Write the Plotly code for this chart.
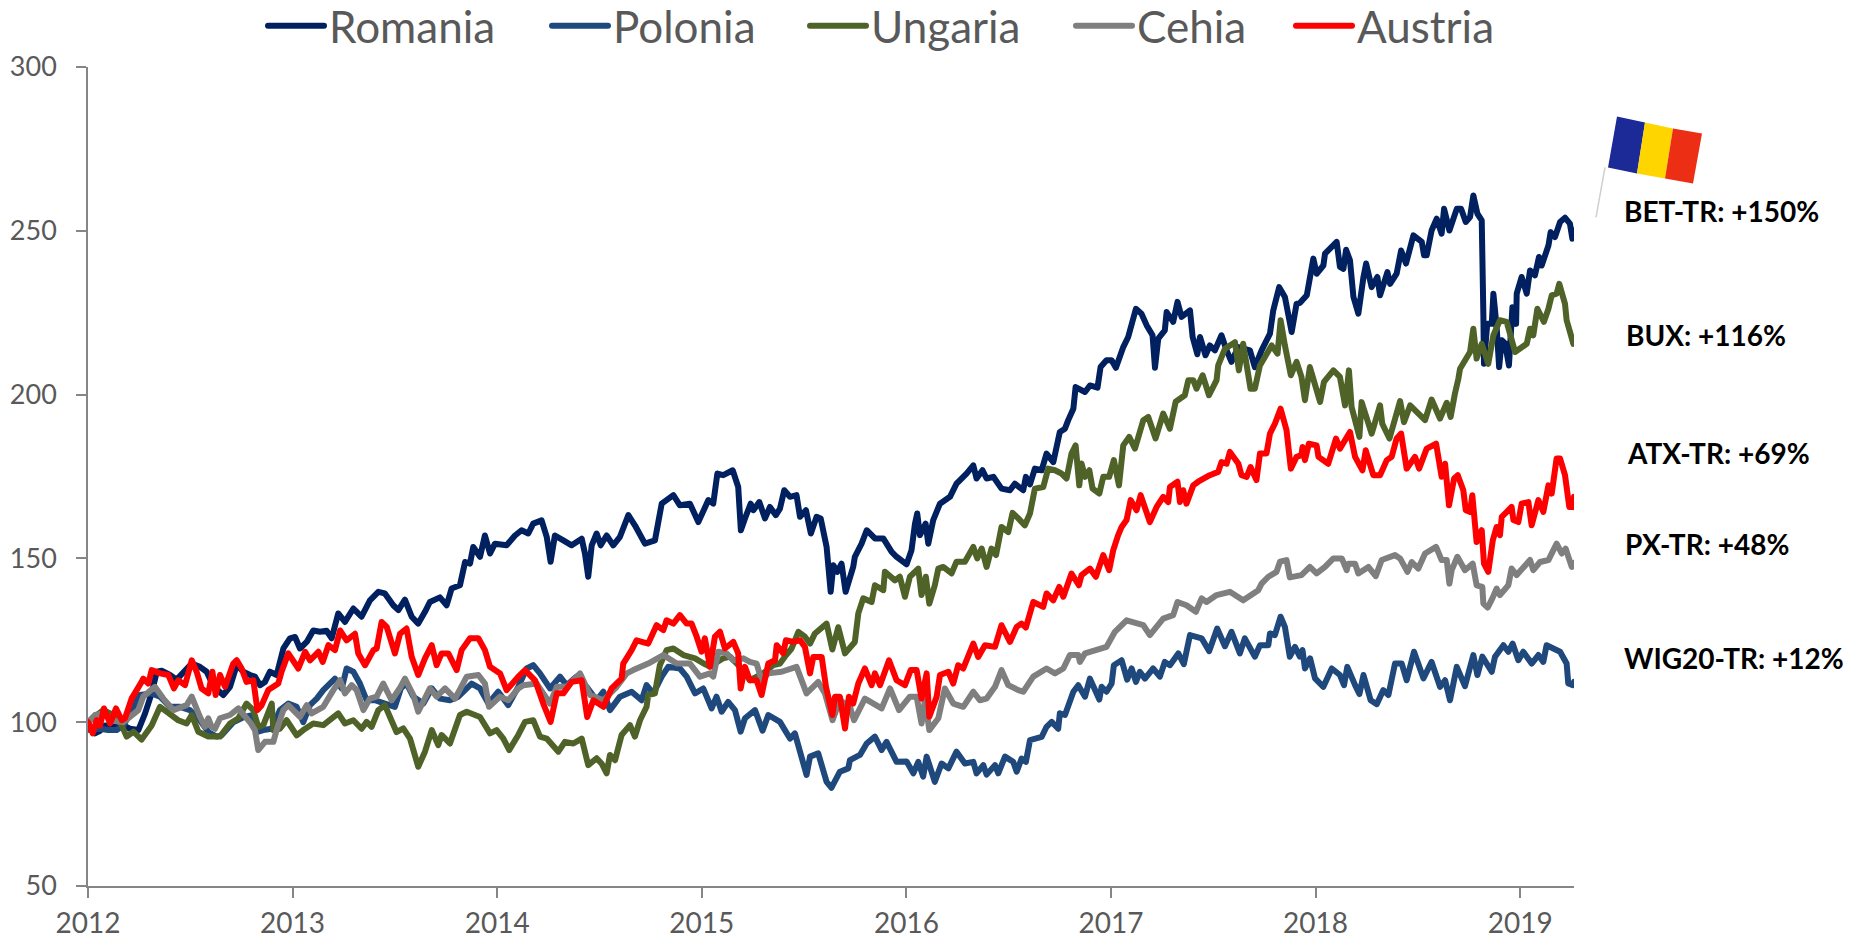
import plotly.graph_objects as go

# Years since the start of 2012, index value
ROMANIA = [(0,100),(.01,98.6),(.034,96.6),(.059,97.4),(.083,99),(.108,98.5),(.173,99),(.205,98),(.246,97.6),(.279,102.7),(.311,108.8),(.336,115.4),(.36,115.7),(.401,114.4),(.433,113),(.507,117.9),(.547,116.9),(.58,115.4),(.613,111),(.661,108.3),(.694,110.8),(.727,117.4),(.759,115.4),(.792,114.4),(.816,113.9),(.841,111.3),(.865,112.3),(.889,115.4),(.922,114.4),(.955,122.5),(.987,125.6),(1.012,126),(1.036,122.5),(1.069,124.5),(1.101,128),(1.134,127.6),(1.166,127.9),(1.191,125.6),(1.223,133.2),(1.256,130.6),(1.297,134.7),(1.337,132.2),(1.378,137.2),(1.419,139.8),(1.451,139.3),(1.492,135.7),(1.517,134.2),(1.549,137.4),(1.582,132.2),(1.614,130.1),(1.647,133.7),(1.671,136.7),(1.72,138.1),(1.753,135.7),(1.777,140.8),(1.818,141.8),(1.843,148.9),(1.867,148.4),(1.883,153.5),(1.916,150.5),(1.94,157),(1.965,151.5),(1.989,154.5),(2.046,154),(2.087,157),(2.119,158.6),(2.152,157.6),(2.176,160.6),(2.217,161.6),(2.242,156.6),(2.261,149),(2.282,157),(2.323,155.5),(2.364,154),(2.413,156),(2.429,151.5),(2.445,144.4),(2.462,154),(2.486,157.6),(2.506,154),(2.535,157),(2.567,154),(2.6,156.6),(2.641,163.2),(2.673,160.1),(2.722,154.5),(2.771,155.5),(2.804,166.7),(2.861,169.3),(2.893,166.2),(2.942,166.7),(2.983,161.1),(3.032,167.8),(3.056,166.7),(3.076,175.9),(3.105,175.4),(3.151,176.9),(3.178,171.8),(3.191,158.6),(3.211,162.2),(3.239,166.7),(3.252,164.7),(3.281,167.2),(3.309,162.2),(3.333,165.7),(3.362,163.2),(3.382,165.2),(3.403,170.8),(3.431,168.8),(3.463,169.3),(3.48,162.7),(3.509,164.7),(3.533,157.6),(3.561,162.7),(3.581,162.2),(3.61,153.5),(3.63,139.8),(3.643,147.9),(3.662,145.9),(3.683,148.4),(3.703,139.8),(3.74,147.4),(3.748,150.5),(3.781,154.5),(3.806,158.6),(3.846,156.1),(3.887,156.1),(3.928,152),(3.952,150.5),(4.001,148.2),(4.025,152.5),(4.042,160.6),(4.053,163.7),(4.066,157.1),(4.094,160.6),(4.107,154.5),(4.131,161.7),(4.164,166.7),(4.213,168.8),(4.245,172.8),(4.294,175.9),(4.327,178.4),(4.343,174.4),(4.372,176.9),(4.392,174.4),(4.425,174.9),(4.465,171.3),(4.506,170.8),(4.53,172.8),(4.571,170.8),(4.584,174.9),(4.604,172.6),(4.628,177.4),(4.661,176.9),(4.685,182),(4.718,179.4),(4.75,188.6),(4.775,189.6),(4.791,192.2),(4.816,195.7),(4.827,202.3),(4.873,200.8),(4.897,202.8),(4.934,202.1),(4.949,208.4),(4.978,210.5),(5.003,210.5),(5.024,208.2),(5.06,214.5),(5.084,217.6),(5.122,226.2),(5.149,224.7),(5.174,221.2),(5.203,218.1),(5.215,208.2),(5.231,217.1),(5.263,219.6),(5.272,225.2),(5.304,222.2),(5.325,228.3),(5.345,223.7),(5.386,225.7),(5.399,217.6),(5.422,212.3),(5.435,217.6),(5.462,212),(5.483,215),(5.508,213.5),(5.54,218.1),(5.565,213.5),(5.589,210),(5.622,214.5),(5.679,213.5),(5.703,208.4),(5.736,213.5),(5.777,218.6),(5.793,225.7),(5.822,232.8),(5.85,229.8),(5.883,219.1),(5.907,227.7),(5.924,228),(5.957,230.3),(5.989,241.5),(6.005,236.9),(6.038,239.4),(6.046,243),(6.103,246.6),(6.119,239),(6.136,238.4),(6.149,244.2),(6.168,241),(6.185,229.8),(6.209,224.7),(6.234,235.9),(6.247,240),(6.274,232.8),(6.302,235.9),(6.315,230.3),(6.351,237.4),(6.364,233.8),(6.396,236.9),(6.418,244),(6.442,240),(6.478,248.6),(6.519,246.6),(6.53,242.5),(6.543,242.5),(6.567,250.1),(6.592,253.7),(6.616,249.1),(6.628,256.7),(6.654,250.1),(6.69,256.7),(6.711,256.7),(6.734,252.7),(6.755,254.2),(6.771,260.8),(6.791,255.2),(6.812,253.2),(6.82,224.7),(6.823,209.4),(6.839,221.6),(6.861,221.6),(6.869,230.8),(6.885,220.6),(6.897,208.4),(6.91,216.6),(6.926,215.6),(6.945,208.9),(6.962,226.7),(6.98,221.6),(6.983,230.8),(7.007,235.9),(7.032,230.8),(7.048,237.9),(7.072,236.4),(7.092,242),(7.105,239.4),(7.138,245.5),(7.149,249.6),(7.17,248.1),(7.195,252.7),(7.219,254),(7.243,252.2),(7.255,247.6),(7.263,250.1)]

POLONIA = [(0,100),(.01,97.6),(.059,98),(.099,97.6),(.14,97.6),(.173,99),(.205,102.7),(.254,108.3),(.311,108.8),(.352,107.8),(.401,104.7),(.45,104.7),(.498,103.7),(.547,100.6),(.588,97),(.629,95.6),(.653,96),(.71,100),(.759,101.5),(.792,102),(.824,97),(.857,97.6),(.898,98),(.938,103.7),(.979,105.7),(1.02,104.7),(1.052,100),(1.085,105.2),(1.118,107.2),(1.15,109.8),(1.207,113.3),(1.24,110.3),(1.264,116.4),(1.297,115.4),(1.329,111.8),(1.362,106.7),(1.403,106.7),(1.451,105.7),(1.5,104.7),(1.53,110.5),(1.557,111.8),(1.59,107.8),(1.639,105.7),(1.68,110.3),(1.72,107.2),(1.769,106.7),(1.81,107.8),(1.875,111.8),(1.916,110.3),(1.957,105.7),(2.005,109.3),(2.054,105.2),(2.103,110.8),(2.144,116.4),(2.176,117.4),(2.209,114.9),(2.258,110.3),(2.307,113.9),(2.339,111.3),(2.388,113.9),(2.437,110.8),(2.486,106.7),(2.519,109.3),(2.551,103.7),(2.6,107.8),(2.657,109.3),(2.706,106.7),(2.73,111.3),(2.763,108.8),(2.804,113.9),(2.836,116.9),(2.893,116.4),(2.926,113.9),(2.967,108.8),(3.007,110.3),(3.048,104.2),(3.072,107.8),(3.097,103.2),(3.129,106.2),(3.162,103.7),(3.19,97.1),(3.211,101.2),(3.26,103.7),(3.297,97.4),(3.325,102.2),(3.382,100.1),(3.431,95),(3.455,96.6),(3.512,83.9),(3.529,89.5),(3.569,90.5),(3.61,81.8),(3.634,80),(3.675,84.9),(3.716,85.9),(3.724,88.4),(3.773,90),(3.806,93.5),(3.846,95.6),(3.879,91.5),(3.903,94),(3.952,87.9),(4.001,88),(4.034,84.4),(4.058,87.9),(4.082,83.4),(4.099,89.5),(4.139,81.8),(4.172,87.4),(4.205,85.9),(4.245,91),(4.286,87.4),(4.327,87.9),(4.343,84.4),(4.376,86.9),(4.392,84),(4.433,86.9),(4.449,84.4),(4.482,89.5),(4.522,87.9),(4.539,84.9),(4.563,88.9),(4.584,87.9),(4.604,94.5),(4.661,95.5),(4.685,98.6),(4.71,100.1),(4.742,98),(4.75,102.7),(4.775,102.2),(4.816,109.3),(4.84,111.3),(4.873,107.8),(4.897,113.3),(4.943,106.9),(4.954,110.8),(4.978,109.3),(5.003,111.8),(5.014,117.4),(5.052,118.9),(5.079,113),(5.101,116.4),(5.122,112.3),(5.141,115.4),(5.166,113.3),(5.206,116.4),(5.239,113.9),(5.263,118.4),(5.288,117.4),(5.329,121),(5.356,117.7),(5.386,126.6),(5.443,125.6),(5.48,121.7),(5.519,128.6),(5.557,123.2),(5.589,127.6),(5.63,121),(5.654,125.6),(5.703,120),(5.728,123.5),(5.769,123.5),(5.777,127.1),(5.801,126.6),(5.829,132.2),(5.85,129.1),(5.874,120),(5.899,123),(5.923,120),(5.936,122),(5.948,116.4),(5.973,119.5),(5.997,113.4),(6.038,110.8),(6.079,116.4),(6.119,114.4),(6.139,111.3),(6.155,116.9),(6.193,111.3),(6.214,108.6),(6.234,114.4),(6.269,106.7),(6.299,105.5),(6.331,109.8),(6.356,108.3),(6.388,117.9),(6.421,117.9),(6.445,112.8),(6.481,121.5),(6.527,113.4),(6.567,118.4),(6.608,110.8),(6.633,112.8),(6.657,106.7),(6.69,116.9),(6.73,111),(6.771,120.5),(6.791,114.4),(6.815,120),(6.861,115.4),(6.877,120),(6.918,123.5),(6.942,121.5),(6.963,124),(6.991,118.9),(7.015,121.5),(7.056,117.9),(7.089,120.5),(7.113,118.4),(7.129,123.5),(7.195,121.5),(7.227,117.9),(7.235,111.8),(7.257,111.3),(7.263,112.3)]

UNGARIA = [(0,100),(.04,102),(.075,103.7),(.124,102.2),(.165,99),(.189,95.6),(.222,97.1),(.262,94.7),(.311,99),(.352,104.7),(.384,103.2),(.441,100.6),(.482,99.6),(.507,102.2),(.539,97.1),(.588,95.6),(.645,95.6),(.694,99.6),(.735,101.2),(.775,105.7),(.808,103.7),(.832,98.6),(.857,99.1),(.898,105.7),(.906,97.6),(.938,98),(.971,100.6),(1.02,96),(1.052,97.6),(1.101,99.6),(1.15,99.1),(1.223,102.7),(1.256,99.6),(1.297,100.6),(1.337,98),(1.362,100.1),(1.386,98.6),(1.419,103.7),(1.451,105.2),(1.476,101.6),(1.508,97),(1.541,98.1),(1.574,95),(1.614,86.4),(1.647,91),(1.68,97.6),(1.712,93),(1.728,96.1),(1.769,93.5),(1.818,102.2),(1.851,103.2),(1.916,101.6),(1.965,96.6),(1.997,97.6),(2.03,95),(2.059,91.5),(2.103,96.1),(2.136,100.1),(2.176,100.6),(2.209,95.6),(2.242,95),(2.299,91),(2.331,94),(2.372,93.5),(2.413,95),(2.445,86.9),(2.486,89),(2.51,87.4),(2.535,84.4),(2.551,90),(2.576,88.4),(2.608,96.1),(2.649,99.1),(2.673,95.6),(2.698,100.6),(2.73,104.7),(2.738,108.3),(2.771,108.8),(2.795,117.4),(2.828,122),(2.861,122.5),(2.91,120.5),(2.967,119.5),(3.007,118),(3.04,117),(3.105,119.5),(3.138,120),(3.2,116),(3.235,112.8),(3.3,114.9),(3.349,117.4),(3.382,117.9),(3.406,120),(3.439,122.5),(3.472,127.6),(3.504,126.1),(3.529,124),(3.553,127.1),(3.61,130.1),(3.638,122.2),(3.667,129),(3.7,121),(3.748,124.5),(3.765,133.2),(3.789,137.8),(3.83,136.7),(3.846,141.8),(3.887,140.3),(3.895,145.9),(3.944,143.3),(3.968,144.4),(3.993,138.3),(4.017,144.4),(4.058,146.9),(4.074,138.8),(4.095,144.4),(4.112,136.2),(4.139,141.8),(4.156,146.9),(4.18,147.4),(4.221,145.4),(4.245,149),(4.286,149),(4.327,153.5),(4.346,150),(4.368,153),(4.392,147.4),(4.416,153),(4.438,151),(4.465,159.6),(4.498,158),(4.519,163.9),(4.547,162.2),(4.579,160.1),(4.604,163.7),(4.628,171.3),(4.669,171.8),(4.693,177.4),(4.726,176.9),(4.758,175.9),(4.783,174.4),(4.807,182),(4.827,184.5),(4.845,172.3),(4.856,179),(4.873,174.9),(4.894,176.9),(4.91,171.3),(4.943,169.8),(4.962,174.9),(4.991,174.9),(5.014,180),(5.039,172.3),(5.06,184.5),(5.089,187.1),(5.117,183.5),(5.158,192.2),(5.182,193.2),(5.218,186.6),(5.255,194.2),(5.288,189.6),(5.316,197.8),(5.361,199.8),(5.378,204.4),(5.402,204.4),(5.418,201.8),(5.448,205.9),(5.479,199.8),(5.516,204.4),(5.524,208.9),(5.557,214),(5.606,216),(5.625,207.4),(5.646,215.5),(5.682,201.8),(5.703,201.8),(5.728,208.9),(5.785,215),(5.814,212.5),(5.829,222.7),(5.85,215),(5.879,205.9),(5.907,210),(5.931,205.4),(5.948,198.3),(5.972,208.4),(6.022,197.8),(6.041,203.9),(6.087,207.4),(6.119,205.4),(6.144,196.7),(6.163,207.4),(6.176,196.2),(6.214,187.1),(6.225,197.7),(6.274,188.1),(6.315,196.7),(6.326,191.1),(6.361,186.6),(6.413,198),(6.432,191.6),(6.462,196.7),(6.535,192.2),(6.567,198.5),(6.608,192.7),(6.641,197.5),(6.66,193.2),(6.681,200.3),(6.698,204.9),(6.706,207.9),(6.755,213),(6.771,220.1),(6.787,211),(6.812,215.5),(6.844,209.4),(6.869,218.1),(6.901,222.7),(6.934,222.2),(6.975,213),(7.032,215.5),(7.048,220.1),(7.064,218.1),(7.084,226.2),(7.116,222.2),(7.138,226.2),(7.154,230.3),(7.178,230.8),(7.191,233.8),(7.219,227.7),(7.227,222.7),(7.26,215.5)]

CEHIA = [(0,100),(.034,102.2),(.075,102.7),(.116,100.5),(.173,100),(.205,101.6),(.246,103.7),(.27,107.8),(.327,110.8),(.368,107.2),(.417,103.7),(.482,105.2),(.507,107.8),(.547,101.6),(.572,98.6),(.588,101.2),(.604,98.6),(.621,98),(.645,101.2),(.694,102.2),(.735,104.2),(.792,100),(.816,97.6),(.832,91.5),(.865,94),(.906,94),(.922,97.6),(.955,103.7),(.979,105.2),(1.036,101.6),(1.069,105.2),(1.093,102.7),(1.15,104.7),(1.199,109.8),(1.232,112.8),(1.256,108.8),(1.289,111.3),(1.313,109.8),(1.346,103.7),(1.378,107.2),(1.411,107.8),(1.443,111.8),(1.484,106.7),(1.525,110.5),(1.549,113.3),(1.59,108.3),(1.614,103.2),(1.671,110.3),(1.704,107.8),(1.745,110.3),(1.794,107.2),(1.851,113.9),(1.908,114.4),(1.94,111.8),(1.96,104.7),(2.014,107.8),(2.054,106.7),(2.103,110.3),(2.128,111.3),(2.193,111.8),(2.258,105.7),(2.291,110.8),(2.339,110.8),(2.405,114.9),(2.454,108.3),(2.519,106.7),(2.584,110.8),(2.633,114.9),(2.665,115.9),(2.738,117.9),(2.812,120.5),(2.877,117.9),(2.942,117.9),(2.991,113.9),(3.04,114.9),(3.056,113.9),(3.081,121.5),(3.121,121),(3.154,118.9),(3.203,119.5),(3.235,118.4),(3.268,117.9),(3.292,112.8),(3.325,114.9),(3.39,115.4),(3.463,116.9),(3.512,108.8),(3.569,112.3),(3.602,108.8),(3.639,100.6),(3.675,106.7),(3.724,104.7),(3.744,100.6),(3.797,107.2),(3.879,104.2),(3.92,110.3),(3.964,103.7),(4.017,107.8),(4.05,107.8),(4.074,99.6),(4.091,106.7),(4.112,97.6),(4.156,101.2),(4.188,110.3),(4.229,105.7),(4.278,104.7),(4.327,109.3),(4.359,106.7),(4.392,107.2),(4.433,110.8),(4.465,115.9),(4.498,111.3),(4.547,109.8),(4.571,109.3),(4.62,113.9),(4.685,116.4),(4.726,114.9),(4.767,116.4),(4.799,120.5),(4.84,120.5),(4.848,118.4),(4.873,121),(4.978,123),(5.019,127.6),(5.076,131.1),(5.158,129.6),(5.19,126.6),(5.255,131.6),(5.304,132.7),(5.325,136.7),(5.369,135.7),(5.415,133.7),(5.443,137.8),(5.467,136.7),(5.516,138.8),(5.581,139.8),(5.646,137.2),(5.72,140.3),(5.736,142.3),(5.769,144.4),(5.809,145.9),(5.826,149),(5.858,149.5),(5.874,144.2),(5.931,144.9),(5.972,147.4),(6.005,145.4),(6.046,147.4),(6.087,150),(6.128,150),(6.152,146.4),(6.16,148.4),(6.193,148.4),(6.209,145.4),(6.258,147.4),(6.294,144.6),(6.323,149.5),(6.388,151),(6.413,150),(6.449,145.9),(6.47,148.9),(6.502,146.9),(6.535,151.5),(6.589,153.5),(6.616,149.5),(6.641,149.5),(6.654,142.3),(6.665,146.4),(6.693,150.5),(6.73,146.4),(6.768,148.4),(6.787,141.8),(6.815,141.3),(6.82,136.2),(6.841,135),(6.864,137.8),(6.885,140.8),(6.901,138.8),(6.942,141.8),(6.958,146.9),(6.983,144.9),(7.048,149.5),(7.064,146.4),(7.097,148.9),(7.138,149.5),(7.178,154.5),(7.203,151.5),(7.222,153),(7.252,147.4),(7.263,148.6)]

AUSTRIA = [(0,100),(.023,96.6),(.042,100.6),(.059,99),(.078,104.2),(.108,99.6),(.137,104.2),(.165,100.6),(.181,101.2),(.213,107.2),(.262,112.3),(.27,113.3),(.295,111.8),(.311,115.9),(.352,114.9),(.393,114.4),(.42,110.3),(.441,112.8),(.474,111.3),(.507,118.9),(.531,115.4),(.555,110.3),(.588,108.8),(.608,115.4),(.624,108.3),(.645,114.4),(.67,110.8),(.71,117.9),(.727,118.9),(.751,116.4),(.775,112.3),(.808,112.8),(.828,103.7),(.849,105.2),(.881,109.8),(.93,111.8),(.946,115.4),(.979,121),(1.028,116.4),(1.061,121.5),(1.085,118.9),(1.126,121.5),(1.147,118.4),(1.175,123.5),(1.207,122),(1.232,128),(1.264,125),(1.305,127),(1.321,121),(1.354,117.4),(1.395,122),(1.411,122.5),(1.435,130.6),(1.46,129.1),(1.5,121),(1.525,127),(1.557,128.6),(1.582,120),(1.614,114.4),(1.647,119.5),(1.68,123.5),(1.704,117.4),(1.728,121),(1.761,121),(1.802,115.9),(1.826,122),(1.867,125.6),(1.908,125.6),(1.94,122),(1.965,116.9),(2.014,114.9),(2.046,109.8),(2.103,113.9),(2.136,115.9),(2.185,112.8),(2.225,105.7),(2.261,100.1),(2.291,108.8),(2.323,108.8),(2.364,112.3),(2.413,112.8),(2.44,101.6),(2.47,106.7),(2.519,104.7),(2.559,110.3),(2.608,113.3),(2.616,117.9),(2.657,122),(2.681,125),(2.738,124),(2.779,129.6),(2.812,128.1),(2.828,131.1),(2.861,130.1),(2.893,132.7),(2.926,130.1),(2.95,130.1),(2.975,126.1),(2.999,121.5),(3.015,125.6),(3.04,116.9),(3.064,126.1),(3.089,127.6),(3.113,122.5),(3.154,124.5),(3.178,121),(3.19,110.3),(3.211,116.9),(3.235,112.8),(3.268,112.8),(3.292,108.3),(3.325,117.9),(3.358,118.9),(3.366,123.5),(3.398,121),(3.411,125),(3.447,124.5),(3.48,125),(3.504,123),(3.529,114.9),(3.545,119.9),(3.586,119.9),(3.607,110.8),(3.638,102.2),(3.651,107.8),(3.675,107.8),(3.7,98.1),(3.719,107.8),(3.74,105.7),(3.765,111.8),(3.797,116.4),(3.83,111.3),(3.846,114.9),(3.871,111.3),(3.915,118.9),(3.952,112.8),(3.993,111.3),(4.021,115.9),(4.05,115.9),(4.074,107.2),(4.099,114.9),(4.112,101.7),(4.148,107.8),(4.164,114.4),(4.205,115.4),(4.229,111.8),(4.253,117.4),(4.278,116.4),(4.327,124),(4.351,119.9),(4.384,123.5),(4.433,123),(4.465,129.6),(4.506,124.5),(4.539,129.1),(4.563,130.1),(4.584,128.9),(4.62,136.7),(4.669,135.2),(4.685,139.3),(4.718,137.2),(4.747,141.3),(4.767,138.3),(4.807,145.4),(4.843,141.8),(4.856,144.9),(4.897,146.9),(4.926,144.4),(4.962,151),(4.991,146.4),(5.011,152.5),(5.035,157.1),(5.052,159.6),(5.076,161.7),(5.096,167.8),(5.125,164.7),(5.145,169.3),(5.19,161.1),(5.223,165.7),(5.255,168.8),(5.28,167.2),(5.288,171.8),(5.325,173.4),(5.337,167.2),(5.353,170.8),(5.369,166.7),(5.402,172.3),(5.426,173.4),(5.483,175.4),(5.524,176.4),(5.54,179.4),(5.565,178.9),(5.581,182.5),(5.622,179),(5.638,175.4),(5.663,174.9),(5.682,177.9),(5.711,173.9),(5.728,182),(5.76,182),(5.777,188.1),(5.801,191.1),(5.829,195.7),(5.858,189.1),(5.879,177.4),(5.907,181),(5.931,181.5),(5.936,184),(5.948,180),(5.967,185),(6.005,184.5),(6.014,181),(6.062,178.9),(6.1,186.6),(6.119,183.5),(6.168,188.6),(6.193,181),(6.229,176.9),(6.245,183),(6.282,175.4),(6.315,175.4),(6.348,180),(6.372,181),(6.396,186.6),(6.418,188.1),(6.445,177.4),(6.486,181),(6.506,177.4),(6.543,183.5),(6.589,185),(6.616,174.9),(6.633,178.9),(6.652,166.2),(6.677,174.4),(6.695,175.4),(6.722,170.8),(6.734,164.7),(6.755,164.2),(6.766,169.3),(6.787,155),(6.812,158.6),(6.823,148.4),(6.844,145.9),(6.866,155.5),(6.885,159.6),(6.901,157.1),(6.91,162.7),(6.958,165.7),(6.967,161.7),(6.991,161.1),(7.007,166.7),(7.04,167.2),(7.056,160.1),(7.089,167.8),(7.113,164.2),(7.138,172.3),(7.154,169.8),(7.178,180.5),(7.195,180.5),(7.219,175.4),(7.24,165.7),(7.26,165.7),(7.263,168.8)]

NAMES = ["Romania", "Polonia", "Ungaria", "Cehia", "Austria"]
COLORS = ["#002060", "#1F497D", "#4F6228", "#7F7F7F", "#FF0000"]
YEAR_TICKS = [0, 1, 2, 3, 4, 5, 6, 7]
YEAR_LABELS = ["2012", "2013", "2014", "2015", "2016", "2017", "2018", "2019"]
Y_TICKS = [50, 100, 150, 200, 250, 300]
RETURNS = ["BET-TR: +150%", "BUX: +116%", "ATX-TR: +69%", "PX-TR: +48%", "WIG20-TR: +12%"]

W, H = 1852, 940
L, R, T, B = 88, 1574, 66.5, 886
FONT = "Lato, Open Sans, sans-serif"

def px(x):
    return (x - L) / (R - L)

def py(y):
    return (B - y) / (B - T)

def path(points):
    return "M " + " L ".join(f"{px(x):.5f},{py(y):.5f}" for x, y in points) + " Z"

fig = go.Figure()
legend_ids = ["legend", "legend2", "legend3", "legend4", "legend5"]
for name, color, series, lid in zip(NAMES, COLORS, [ROMANIA, POLONIA, UNGARIA, CEHIA, AUSTRIA], legend_ids):
    fig.add_trace(go.Scatter(
        x=[p[0] for p in series], y=[p[1] for p in series], mode="lines", name=name, legend=lid,
        line=dict(color=color, width=6, shape="linear", simplify=False),
    ))

annotations = []
for text, lx, ly in zip(RETURNS, [1622, 1624, 1625, 1623, 1622], [211, 335, 453, 544, 658]):
    annotations.append(dict(
        xref="paper", yref="paper", x=px(lx), y=py(ly), xanchor="left", yanchor="middle",
        text=f"<b>{text}</b>", showarrow=False,
        font=dict(family=FONT, size=28, color="#000000"),
    ))

flag_pieces = [
    ([(1617, 116), (1645, 122), (1637, 173), (1608, 167)], "#1B2A96"),
    ([(1645, 122), (1673, 128), (1665, 178), (1637, 173)], "#FFD500"),
    ([(1673, 128), (1702, 133), (1693, 183), (1665, 178)], "#EC2F14"),
]
shapes = [dict(type="line", xref="paper", yref="paper", x0=px(1605), y0=py(167), x1=px(1596), y1=py(217),
               line=dict(color="#CFCFCF", width=1.5))]
for pts, col in flag_pieces:
    shapes.append(dict(type="path", xref="paper", yref="paper", path=path(pts),
                       fillcolor=col, line=dict(width=0), layer="above"))

legends = {}
for lid, lx in zip(legend_ids, [263, 547, 805, 1071, 1291]):
    legends[lid] = dict(
        orientation="h", xref="paper", yref="paper", x=px(lx), y=py(-10), xanchor="left", yanchor="top",
        font=dict(family=FONT, size=44, color="#595959"), itemwidth=56,
        bgcolor="rgba(0,0,0,0)",
    )

fig.update_layout(
    width=W, height=H,
    margin=dict(l=L, r=W - R, t=T, b=H - B, pad=0, autoexpand=False),
    paper_bgcolor="white", plot_bgcolor="white",
    showlegend=True,
    xaxis=dict(
        range=[0, 7.263], tickmode="array", tickvals=YEAR_TICKS, ticktext=YEAR_LABELS,
        automargin=False,
        showgrid=False, zeroline=False, showline=True, linecolor="#868686", linewidth=1.5,
        ticks="outside", ticklen=10, tickwidth=1.5, tickcolor="#868686", ticklabelstandoff=2,
        tickfont=dict(family=FONT, size=28, color="#595959"),
    ),
    yaxis=dict(
        range=[50, 300], tickmode="array", tickvals=Y_TICKS,
        automargin=False,
        showgrid=False, zeroline=False, showline=True, linecolor="#868686", linewidth=1.5,
        ticks="outside", ticklen=10, tickwidth=1.5, tickcolor="#868686", ticklabelstandoff=14,
        tickfont=dict(family=FONT, size=27, color="#595959"),
    ),
    annotations=annotations,
    shapes=shapes,
    **legends,
)

POST = ("document.body.style.margin='0';document.documentElement.style.overflow='hidden';"
        "var s=document.createElement('style');"
        "s.textContent='path.js-line{stroke-linejoin:round;stroke-linecap:round}';"
        "document.head.appendChild(s);")
fig.write_html("out.html", config={"displayModeBar": False}, post_script=POST)
